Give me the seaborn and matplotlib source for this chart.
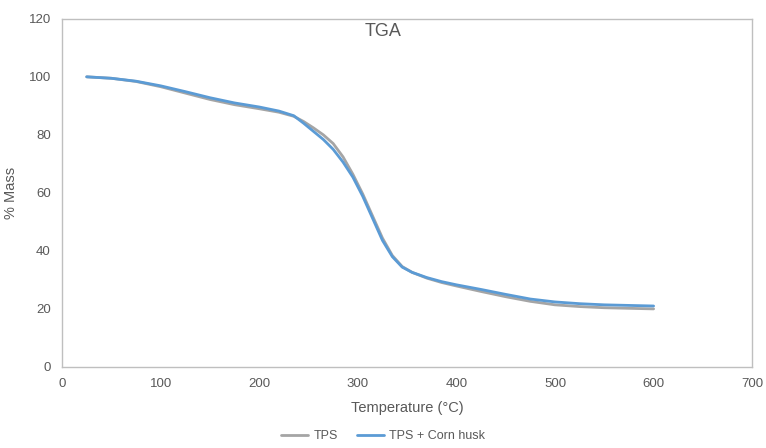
import matplotlib
matplotlib.use("Agg")
import matplotlib.pyplot as plt
import seaborn as sns
import pandas as pd

# values
temp_tps = [25, 50, 75, 100, 125, 150, 175, 200, 220, 235, 245, 255, 265, 275, 285, 295,
            305, 315, 325, 335, 345, 355, 370, 385, 400, 425, 450, 475, 500, 525, 550, 575, 600]
mass_tps = [100, 99.5, 98.4, 96.6, 94.4, 92.2, 90.4, 89.0, 87.8, 86.4, 84.6, 82.4, 80.0, 77.0, 72.4, 66.4,
            59.6, 52.0, 44.4, 38.4, 34.6, 32.6, 30.6, 29.1, 27.9, 26.0, 24.2, 22.6, 21.4, 20.8, 20.4, 20.2, 20.0]

temp_husk = [25, 50, 75, 100, 125, 150, 175, 200, 220, 235, 245, 255, 265, 275, 285, 295,
             305, 315, 325, 335, 345, 355, 370, 385, 400, 425, 450, 475, 500, 525, 550, 575, 600]
mass_husk = [100, 99.5, 98.5, 96.9, 94.9, 92.8, 91.0, 89.6, 88.2, 86.6, 84.0, 81.2, 78.4, 75.0, 70.6, 65.4,
             58.8, 51.2, 43.6, 38.0, 34.4, 32.6, 30.8, 29.4, 28.3, 26.7, 25.0, 23.4, 22.4, 21.8, 21.4, 21.2, 21.0]

series_names = ["TPS", "TPS + Corn husk"]

df = pd.concat([
    pd.DataFrame({"Temperature": temp_tps, "Mass": mass_tps, "Sample": series_names[0]}),
    pd.DataFrame({"Temperature": temp_husk, "Mass": mass_husk, "Sample": series_names[1]}),
])

sns.set_style("white")
plt.rcParams["font.family"] = ["Liberation Sans Narrow", "Liberation Sans", "DejaVu Sans"]

fig = plt.figure(figsize=(7.66, 4.48), dpi=100)
ax = fig.add_axes([0.081, 0.181, 0.901, 0.777])

sns.lineplot(data=df, x="Temperature", y="Mass", hue="Sample", sort=False,
             palette=["#A5A5A5", "#5B9BD5"], linewidth=2, ax=ax)

ax.set_xlim(0, 700)
ax.set_ylim(0, 120)
ax.set_xticks(range(0, 701, 100))
ax.set_yticks(range(0, 121, 20))
ax.tick_params(colors="#595959", labelsize=9.5, length=0, pad=8)
for s in ax.spines.values():
    s.set_color("#BFBFBF")
    s.set_linewidth(1)

ax.set_xlabel("Temperature (°C)", color="#595959", fontsize=10.5, labelpad=8)
ax.set_ylabel("% Mass", color="#595959", fontsize=10.5, labelpad=8)
fig.text(0.5, 0.93, "TGA", ha="center", va="center", color="#595959", fontsize=13)

handles, labels = ax.get_legend_handles_labels()
ax.legend(handles, labels, loc="center", bbox_to_anchor=(0.5, 0.027),
          bbox_transform=fig.transFigure, ncol=2, frameon=False, fontsize=9,
          labelcolor="#595959", handlelength=2.2, columnspacing=1.5, handletextpad=0.4)

fig.savefig("out.png", dpi=100)
